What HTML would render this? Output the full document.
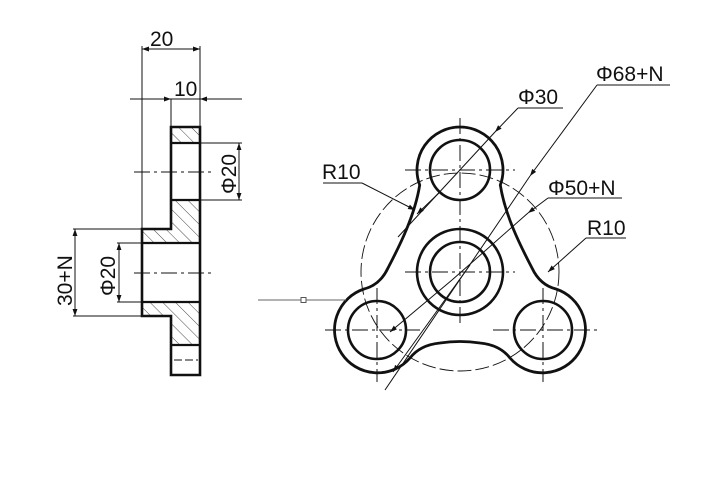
<!DOCTYPE html>
<html><head><meta charset="utf-8"><style>
html,body{margin:0;padding:0;background:#fff;}
svg{display:block}
text{font-family:"Liberation Sans","DejaVu Sans",sans-serif;font-size:21px;fill:#111}
</style></head><body>
<svg width="720" height="480" viewBox="0 0 720 480" xmlns="http://www.w3.org/2000/svg">
<defs>
<marker id="a" viewBox="0 0 10 10" refX="10" refY="5" markerWidth="14" markerHeight="7" markerUnits="userSpaceOnUse" orient="auto-start-reverse"><path d="M0,1.5L10,5L0,8.5z" fill="#111"/></marker>
<pattern id="h" patternUnits="userSpaceOnUse" width="9" height="9" patternTransform="rotate(-45)"><line x1="0" y1="0" x2="0" y2="9" stroke="#333" stroke-width="0.9"/></pattern>
</defs>
<g fill="none" stroke="#111">
<rect x="171" y="127" width="29" height="16" fill="url(#h)" stroke="none"/>
<path d="M171,200H200V243H142V229H171Z" fill="url(#h)" stroke="none"/>
<path d="M142,302H200V345H171V316H142Z" fill="url(#h)" stroke="none"/>
<path d="M171,127H200V375H171V316H142V229H171Z" stroke-width="2.6"/>
<g stroke-width="2.2">
<line x1="171" y1="143" x2="200" y2="143"/><line x1="171" y1="200" x2="200" y2="200"/>
<line x1="142" y1="243" x2="200" y2="243"/><line x1="142" y1="302" x2="200" y2="302"/>
<line x1="171" y1="345" x2="200" y2="345"/>
</g>
<g stroke-width="1" stroke-dasharray="16,4,3,4">
<line x1="134" y1="172" x2="212" y2="172"/><line x1="134" y1="273" x2="212" y2="273"/>
</g>
<line x1="174" y1="360" x2="198" y2="360" stroke-width="1" stroke-dasharray="8,3"/>
<g stroke-width="1">
<line x1="142" y1="46" x2="142" y2="229"/><line x1="200" y1="46" x2="200" y2="127"/>
<line x1="142" y1="49" x2="200" y2="49" marker-start="url(#a)" marker-end="url(#a)"/>
<line x1="130" y1="99" x2="171" y2="99" marker-end="url(#a)"/>
<line x1="242" y1="99" x2="200" y2="99" marker-end="url(#a)"/>
<line x1="171" y1="99" x2="200" y2="99"/>
<line x1="171" y1="99" x2="171" y2="127"/>
<line x1="200" y1="143" x2="242" y2="143"/><line x1="200" y1="200" x2="242" y2="200"/>
<line x1="239" y1="143" x2="239" y2="200" marker-start="url(#a)" marker-end="url(#a)"/>
<line x1="142" y1="243" x2="117" y2="243"/><line x1="142" y1="302" x2="117" y2="302"/>
<line x1="119" y1="243" x2="119" y2="302" marker-start="url(#a)" marker-end="url(#a)"/>
<line x1="142" y1="229" x2="73" y2="229"/><line x1="142" y1="316" x2="73" y2="316"/>
<line x1="75" y1="229" x2="75" y2="316" marker-start="url(#a)" marker-end="url(#a)"/>
</g>
<path d="M419.7,185 A43,43 0 1 1 500.3,185 C505,215 520,245 532,268 Q540,285 556,289 A43,43 0 1 1 510,358 Q500,345 480,343 Q460,340 440,343 Q420,345 410,358 A43,43 0 1 1 364,289 Q380,285 388,268 C400,245 415,215 419.7,185 Z" stroke-width="2.8"/>
<g stroke-width="2.6">
<circle cx="460" cy="170" r="30"/><circle cx="460" cy="272" r="30"/><circle cx="460" cy="272" r="43"/>
<circle cx="377" cy="330" r="29"/><circle cx="543" cy="330" r="29"/>
</g>
<circle cx="460" cy="272" r="99" stroke-width="0.9" stroke-dasharray="14,4"/>
<g stroke-width="1" stroke-dasharray="16,4,3,4">
<line x1="460" y1="118" x2="460" y2="325"/>
<line x1="405" y1="170" x2="515" y2="170"/><line x1="405" y1="272" x2="515" y2="272"/>
<line x1="325" y1="330" x2="420" y2="330"/><line x1="493" y1="330" x2="597" y2="330"/>
<line x1="377" y1="288" x2="377" y2="382"/><line x1="543" y1="288" x2="543" y2="382"/>
</g>
<g stroke-width="1">
<line x1="597" y1="85" x2="670" y2="85"/><line x1="597" y1="85" x2="530" y2="176" marker-end="url(#a)"/>
<line x1="530" y1="176" x2="385" y2="390"/><line x1="470" y1="265" x2="393" y2="372" marker-end="url(#a)"/>
<line x1="518" y1="108" x2="563" y2="108"/><line x1="518" y1="108" x2="495" y2="132" marker-end="url(#a)"/>
<line x1="495" y1="132" x2="398" y2="237"/><line x1="440" y1="192" x2="417" y2="214" marker-end="url(#a)"/>
<line x1="548" y1="198" x2="622" y2="198"/><line x1="548" y1="198" x2="528" y2="213" marker-end="url(#a)"/>
<line x1="528" y1="213" x2="452" y2="280"/><line x1="452" y1="280" x2="390" y2="332" marker-end="url(#a)"/>
<line x1="323" y1="183" x2="362" y2="183"/><line x1="362" y1="183" x2="415" y2="210" marker-end="url(#a)"/>
<line x1="586" y1="238" x2="626" y2="238"/><line x1="586" y1="238" x2="548" y2="272" marker-end="url(#a)"/>
<line x1="258" y1="300" x2="346" y2="300" stroke="#666"/>
<rect x="301" y="297.5" width="5" height="5" stroke="#555" fill="#fff"/>
</g>
</g>
<text x="150" y="46">20</text>
<text x="174" y="96">10</text>
<text transform="translate(236,194) rotate(-90)">Φ20</text>
<text transform="translate(115,296) rotate(-90)">Φ20</text>
<text transform="translate(72,306) rotate(-90)">30+N</text>
<text x="518" y="104">Φ30</text>
<text x="596" y="81">Φ68+N</text>
<text x="548" y="195">Φ50+N</text>
<text x="322" y="179">R10</text>
<text x="587" y="235">R10</text>
</svg>
</body></html>
